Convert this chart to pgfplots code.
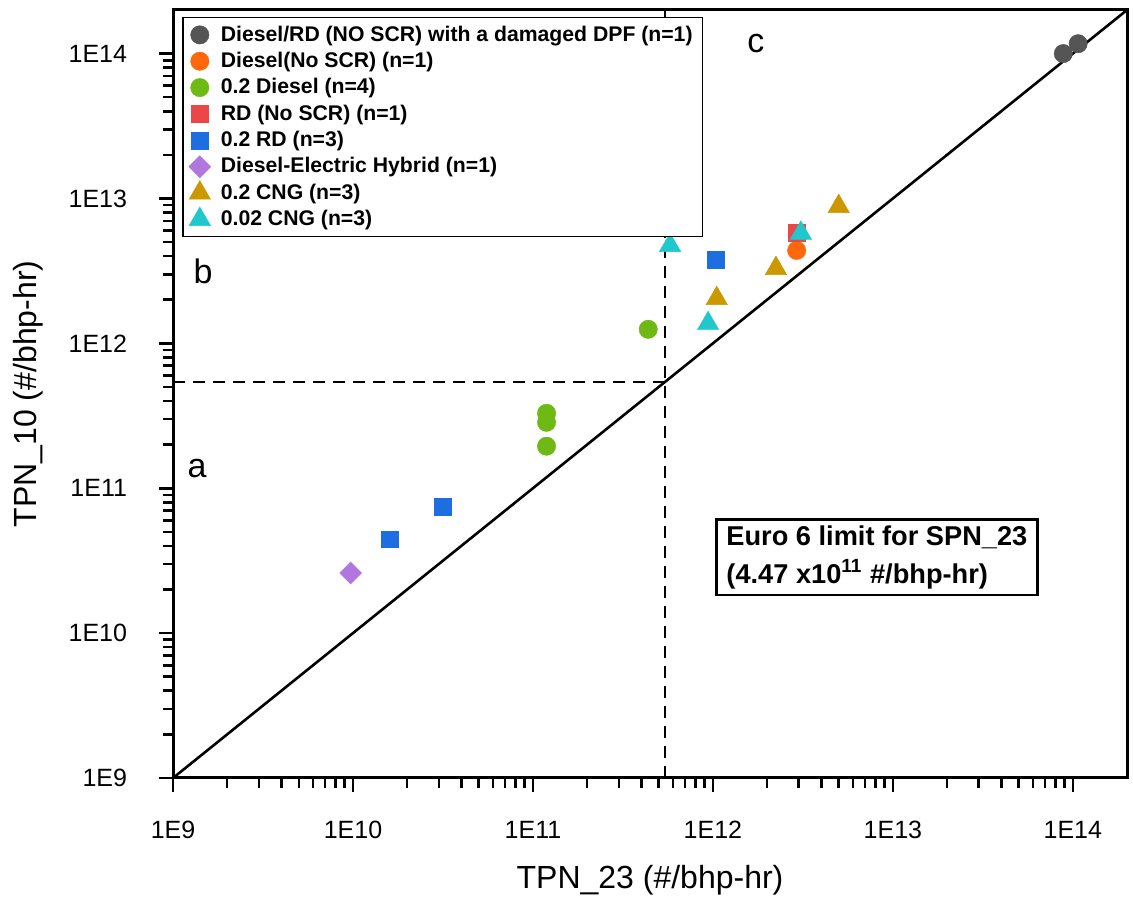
\documentclass[border=0pt]{standalone}
\usepackage{fontspec}
\setmainfont{Liberation Sans}
\usepackage{pgfplots}
\pgfplotsset{compat=1.18}

\definecolor{cgray}{RGB}{85,85,85}
\definecolor{corange}{RGB}{255,104,10}
\definecolor{cgreen}{RGB}{110,185,20}
\definecolor{cred}{RGB}{235,70,72}
\definecolor{cblue}{RGB}{30,110,225}
\definecolor{cpurple}{RGB}{176,120,222}
\definecolor{cgold}{RGB}{204,152,0}
\definecolor{ccyan}{RGB}{30,200,205}

\newcommand{\lt}[1]{\hspace*{3pt}#1}

\begin{document}
\begin{tikzpicture}
\useasboundingbox (-86.5pt,-60.5pt) rectangle (480pt,389pt);
\begin{axis}[
  at={(0,0)}, anchor=south west,
  scale only axis, width=477pt, height=384pt,
  xmode=log, ymode=log,
  xmin=1e9, xmax=2e14, ymin=1e9, ymax=2e14,
  axis line style={line width=1.5pt},
  tick style={line width=1.3pt, black},
  major tick length=7pt, minor tick length=5pt,
  tick align=outside, xtick pos=left, ytick pos=left,
  xtick={1e9,1e10,1e11,1e12,1e13,1e14},
  xticklabels={1E9,1E10,1E11,1E12,1E13,1E14},
  ytick={1e9,1e10,1e11,1e12,1e13,1e14},
  yticklabels={1E9,1E10,1E11,1E12,1E13,1E14},
  ticklabel style={font=\fontsize{12.5}{14}\selectfont},
  xticklabel style={yshift=-11pt},
  yticklabel style={xshift=-12.5pt},
  xlabel={TPN\_23 (\#/bhp-hr)},
  ylabel={TPN\_10 (\#/bhp-hr)},
  label style={font=\fontsize{16}{18}\selectfont},
  xlabel style={at={(rel axis cs:0.5,-0.1328)}, anchor=center},
  ylabel style={at={(rel axis cs:-0.152,0.5)}, anchor=center},
  legend style={at={(rel axis cs:0.0094,0.991)}, anchor=north west,
    draw=black, line width=0.8pt,
    font=\bfseries\fontsize{10.6}{12}\selectfont, row sep=0pt},
  legend image post style={xshift=3pt},
  legend cell align=left,
]
% 1:1 line and limit lines
\addplot[forget plot, black, line width=1.3pt] coordinates {(1e9,1e9) (2e14,2e14)};
\addplot[forget plot, black, line width=0.8pt, dash pattern=on 6pt off 4pt] coordinates {(1e9,5.4e11) (5.4e11,5.4e11)};
\addplot[forget plot, black, line width=0.8pt, dash pattern=on 6pt off 4pt] coordinates {(5.4e11,1e9) (5.4e11,2e14)};

\addplot[only marks, mark=*, mark size=4.6pt, mark options={fill=cgray, draw=cgray, line width=0.2pt}]
  coordinates {(8.85e13,1.0e14) (1.07e14,1.17e14)};
\addlegendentry{\lt{Diesel/RD (NO SCR) with a damaged DPF (n=1)}}
\addplot[only marks, mark=*, mark size=4.6pt, mark options={fill=corange, draw=corange, line width=0.2pt}]
  coordinates {(2.92e12,4.38e12)};
\addlegendentry{\lt{Diesel(No SCR) (n=1)}}
\addplot[only marks, mark=*, mark size=4.6pt, mark options={fill=cgreen, draw=cgreen, line width=0.2pt}]
  coordinates {(4.37e11,1.25e12) (1.19e11,3.29e11) (1.19e11,2.85e11) (1.19e11,1.95e11)};
\addlegendentry{\lt{0.2 Diesel (n=4)}}
\addplot[only marks, mark=square*, mark size=4.2pt, mark options={fill=cred, draw=cred, line width=0.2pt}]
  coordinates {(2.92e12,5.83e12)};
\addlegendentry{\lt{RD (No SCR) (n=1)}}
\addplot[only marks, mark=square*, mark size=4.2pt, mark options={fill=cblue, draw=cblue, line width=0.2pt}]
  coordinates {(1.04e12,3.79e12) (3.14e10,7.5e10) (1.6e10,4.45e10)};
\addlegendentry{\lt{0.2 RD (n=3)}}
\addplot[only marks, mark=square*, mark size=3.9pt, mark options={fill=cpurple, draw=cpurple, line width=0.2pt, rotate=45}]
  coordinates {(9.7e9,2.6e10)};
\addlegendentry{\lt{Diesel-Electric Hybrid (n=1)}}
\addplot[only marks, mark=triangle*, mark size=6.2pt, mark options={fill=cgold, draw=cgold, line width=0.2pt}]
  coordinates {(1.05e12,2.04e12) (2.24e12,3.29e12) (5.0e12,8.81e12)};
\addlegendentry{\lt{0.2 CNG (n=3)}}
\addplot[only marks, mark=triangle*, mark size=6.2pt, mark options={fill=ccyan, draw=ccyan, line width=0.2pt}]
  coordinates {(5.78e11,4.74e12) (9.4e11,1.37e12) (3.08e12,5.76e12)};
\addlegendentry{\lt{0.02 CNG (n=3)}}

\node[font=\fontsize{17}{20}\selectfont] at (axis cs:1.36e9,1.37e11) {a};
\node[font=\fontsize{17}{20}\selectfont] at (axis cs:1.47e9,3.14e12) {b};
\node[font=\fontsize{17}{20}\selectfont] at (axis cs:1.73e12,1.17e14) {c};
\node[draw=black, line width=1.4pt, fill=white, anchor=north west, align=left,
  inner xsep=5pt, inner ysep=3pt, font=\bfseries\fontsize{13.6}{19}\selectfont]
  at (axis cs:1.028e12,6.21e10) {Euro 6 limit for SPN\_23\\(4.47 x10\textsuperscript{11} \#/bhp-hr)};
\end{axis}
\end{tikzpicture}
\end{document}
